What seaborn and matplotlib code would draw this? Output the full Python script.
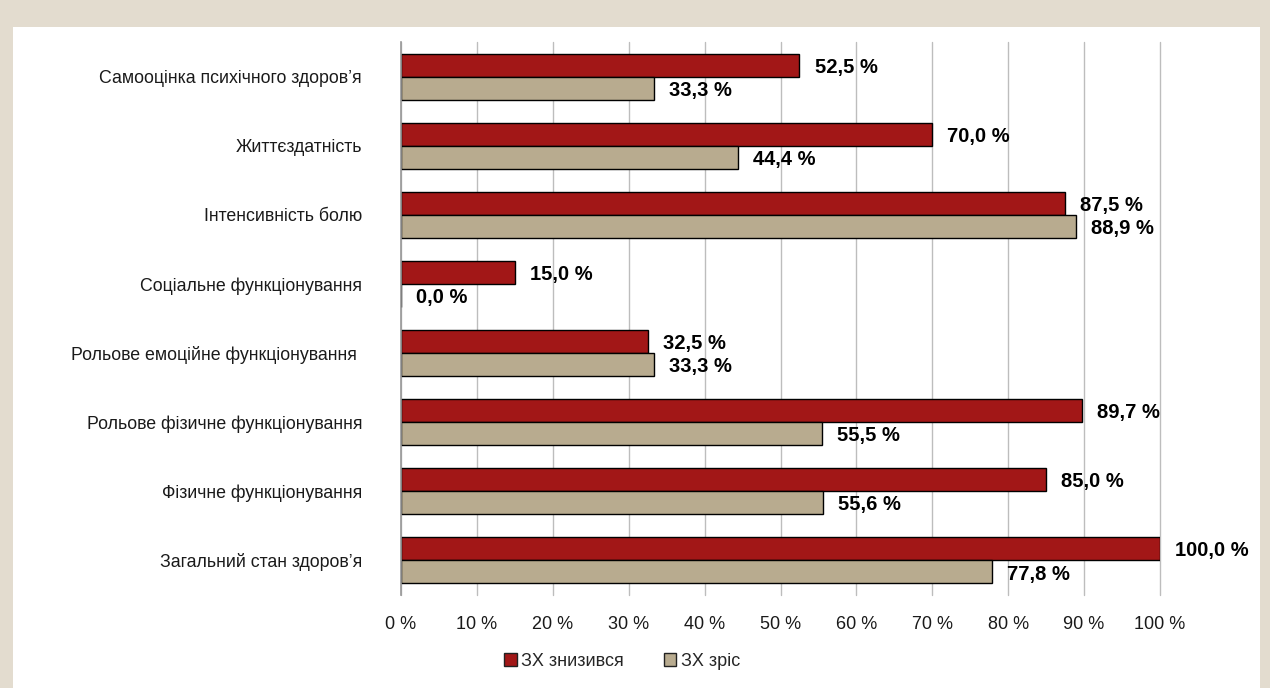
import pandas as pd
import matplotlib
matplotlib.use("Agg")
import matplotlib.pyplot as plt
import seaborn as sns
from matplotlib.patches import Rectangle, Patch
from matplotlib.transforms import offset_copy

# Дані діаграми
categories = [
    "Самооцінка психічного здоров’я",
    "Життєздатність",
    "Інтенсивність болю",
    "Соціальне функціонування",
    "Рольове емоційне функціонування ",
    "Рольове фізичне функціонування",
    "Фізичне функціонування",
    "Загальний стан здоров’я",
]
series_names = ["ЗХ знизився", "ЗХ зріс"]
decreased = [52.5, 70.0, 87.5, 15.0, 32.5, 89.7, 85.0, 100.0]
increased = [33.3, 44.4, 88.9, 0.0, 33.3, 55.5, 55.6, 77.8]
x_ticks = [0, 10, 20, 30, 40, 50, 60, 70, 80, 90, 100]

colors = ["#a21717", "#b8ab8f"]

df = pd.DataFrame({
    "category": categories * 2,
    "series": [series_names[0]] * len(categories) + [series_names[1]] * len(categories),
    "value": decreased + increased,
})

sns.set_style("white")
plt.rcParams["font.family"] = ["Liberation Sans", "DejaVu Sans"]

fig = plt.figure(figsize=(12.7, 6.88), dpi=100)
fig.patch.set_facecolor("#e3dccf")
fig.patches.append(Rectangle((13 / 1270, 0), (1260 - 13) / 1270, 1 - 27 / 688,
                             transform=fig.transFigure, facecolor="white",
                             edgecolor="none", zorder=-5))

ax = fig.add_axes([401 / 1270, 1 - 595 / 688, 759 / 1270, 553 / 688])
ax.set_facecolor("none")

sns.barplot(data=df, x="value", y="category", hue="series", order=categories,
            hue_order=series_names, palette=colors, saturation=1, orient="h",
            width=0.667, edgecolor="black", linewidth=1.0, legend=False, ax=ax)

ax.set_xlim(0, 100)
ax.set_xticks(x_ticks)
ax.set_xticklabels([f"{t} %" for t in x_ticks], fontsize=13, color="#1a1a1a")
ax.tick_params(axis="x", length=0, pad=15)
ax.tick_params(axis="y", length=0, pad=28, labelsize=12.8, labelcolor="#1a1a1a")
ax.set_xlabel("")
ax.set_ylabel("")
ax.xaxis.grid(True, color="#bdbdbd", linewidth=1.0)
for gl in ax.get_xgridlines():
    gl.set_clip_on(False)
ax.set_axisbelow(True)
for side in ["top", "right", "bottom"]:
    ax.spines[side].set_visible(False)
ax.spines["left"].set_color("#999999")
ax.spines["left"].set_linewidth(1.2)

# Підписи значень
label_trans = offset_copy(ax.transData, fig=fig, x=0, y=-1.5, units="points")
for container in ax.containers:
    for bar in container:
        val = bar.get_width()
        y = bar.get_y() + bar.get_height() / 2
        ax.text(val + 2.0, y, f"{val:.1f} %".replace(".", ","), va="center",
                ha="left", fontsize=14.5, fontweight="bold", color="black",
                clip_on=False, transform=label_trans)

handles = [Patch(facecolor=c, edgecolor="#222222", label=n) for c, n in zip(colors, series_names)]
fig.legend(handles=handles, loc="center", bbox_to_anchor=(622 / 1270, 1 - 661 / 688),
           ncol=2, frameon=False, fontsize=13, handlelength=0.7, handleheight=0.7,
           handletextpad=0.25, columnspacing=2.2)

fig.savefig("out.png", dpi=100, facecolor=fig.get_facecolor())
